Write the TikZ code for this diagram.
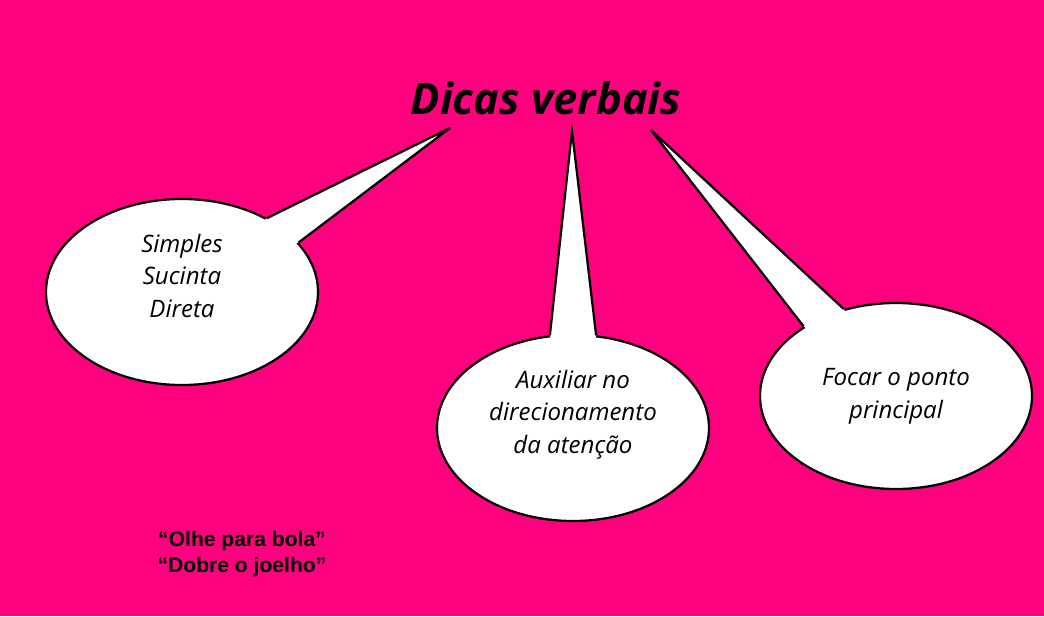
\documentclass[tikz,border=0pt]{standalone}
\usepackage{fontspec}
\setmainfont{Open Sans}
\newfontfamily\quotefont{Liberation Sans}
\usetikzlibrary{calc,shapes.geometric}
\definecolor{dvpink}{HTML}{FF007F}
\tikzset{
  bubble/.style={ellipse, draw=black, fill=white, line width=1.6pt, minimum width=6.8cm, minimum height=4.65cm, inner sep=0pt, align=center, font=\fontsize{17.1}{23.3}\selectfont\itshape},
  tailfill/.style={fill=white},
  tailline/.style={draw=black, line width=1.6pt},
}

\begin{document}
\begin{tikzpicture}
    \fill[dvpink] (0,0) rectangle (26.1,15.4);
    \useasboundingbox (0,0) rectangle (26.1,15.4);
    \node[font=\fontsize{30.9}{36}\selectfont\bfseries\itshape] (title) at (13.65,12.95) {Dicas verbais};
    \coordinate (tipa) at (11.25,12.2);
    \coordinate (tipb) at (14.3,12.125);
    \coordinate (tipc) at (16.275,12.15);
    \node[bubble] (simp) at (4.55,8.1) {Simples\\Sucinta\\Direta\\\mbox{}};
    \node[bubble] (aux) at (14.325,4.7) {Auxiliar no\\direcionamento\\da atenção\\\mbox{}};
    \node[bubble] (foco) at (22.4,5.5) {Focar o ponto\\principal};
    % tails
    \fill[tailfill] ($(simp.center)!0.85!(simp.41)$) -- (simp.41) -- (tipa) -- (simp.23) -- ($(simp.center)!0.85!(simp.23)$) -- cycle;
    \draw[tailline] (simp.41) -- (tipa) -- (simp.23);
    \fill[tailfill] ($(aux.center)!0.85!(aux.104.6)$) -- (aux.104.6) -- (tipb) -- (aux.76) -- ($(aux.center)!0.85!(aux.76)$) -- cycle;
    \draw[tailline] (aux.104.6) -- (tipb) -- (aux.76);
    \fill[tailfill] ($(foco.center)!0.85!(foco.143.4)$) -- (foco.143.4) -- (tipc) -- (foco.121.4) -- ($(foco.center)!0.85!(foco.121.4)$) -- cycle;
    \draw[tailline] (foco.143.4) -- (tipc) -- (foco.121.4);
    \node[font=\quotefont\fontsize{15}{18}\selectfont\bfseries, align=center] (ex) at (6.05,1.55) {“Olhe para bola”\\“Dobre o joelho”};
\end{tikzpicture}
\end{document}
